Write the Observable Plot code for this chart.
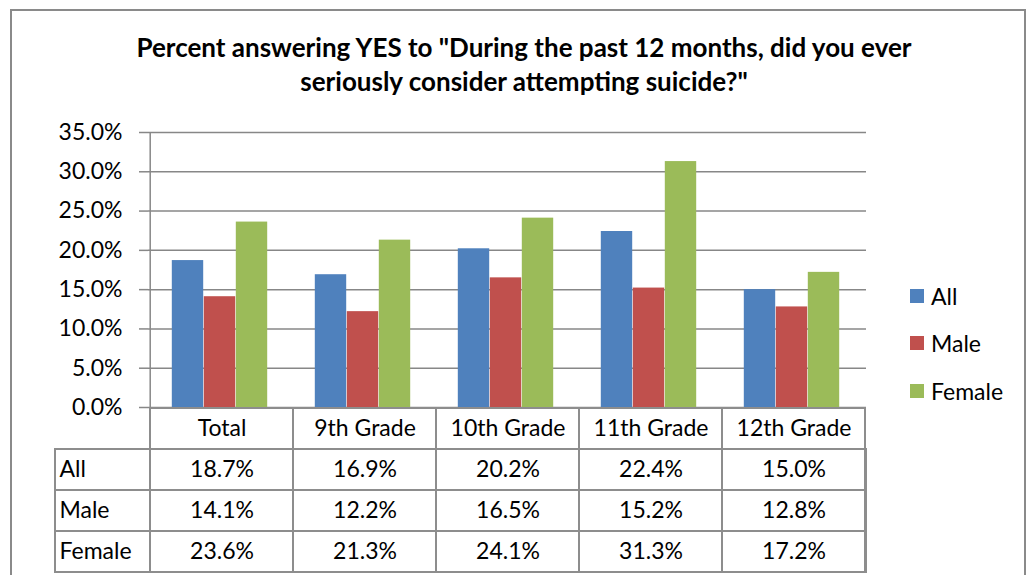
<!DOCTYPE html>
<html><head><meta charset="utf-8">
<script src="https://cdn.jsdelivr.net/npm/d3@7"></script>
<script src="https://cdn.jsdelivr.net/npm/@observablehq/plot@0.6"></script>
<style>
body{margin:0;background:#fff;font-family:Lato,sans-serif;}
#wrap{position:relative;width:1029px;height:575px;overflow:hidden;background:#fff;}
#border{position:absolute;left:10px;top:9px;width:1016px;height:600px;border:2px solid #8a8a8a;box-sizing:border-box;}
#title{position:absolute;left:24px;width:1000px;top:30px;text-align:center;font-weight:bold;font-size:26px;line-height:34px;color:#000;}
.plot{position:absolute;left:0;}
#chart{top:0;}
#table{top:405px;}
#chart g[aria-label^="y-axis"] line, #chart g[aria-label^="y-axis"] path{stroke:#878787 !important;stroke-width:1.5px;}
#legend{position:absolute;left:910px;top:272px;}
.li{display:flex;align-items:center;height:47.5px;font-size:23px;color:#000;}
.sw{width:14px;height:14px;margin-right:7px;}
</style></head>
<body>
<div id="wrap">
  <div id="border"></div>
  <div id="title">Percent answering YES to "During the past 12 months, did you ever<br>seriously consider attempting suicide?"</div>
  <div id="chart" class="plot"></div>
  <div id="table" class="plot"></div>
  <div id="legend"></div>
</div>
<script>
const categories = ["Total", "9th Grade", "10th Grade", "11th Grade", "12th Grade"];
const series = ["All", "Male", "Female"];
const allValues = [18.7, 16.9, 20.2, 22.4, 15.0];
const maleValues = [14.1, 12.2, 16.5, 15.2, 12.8];
const femaleValues = [23.6, 21.3, 24.1, 31.3, 17.2];
const colors = ["#4F81BD", "#C0504D", "#9BBB59"];
const yTicks = [0, 5, 10, 15, 20, 25, 30, 35];

const seriesValues = [allValues, maleValues, femaleValues];
const data = series.flatMap((s, i) => categories.map((c, j) => ({category: c, series: s, value: seriesValues[i][j]})));
const fmt = d => d.toFixed(1) + "%";

const W = 1029, mL = 148, mR = 163;
const band = (W - mL - mR) / categories.length;
const barW = 32;
const gridColor = "#878787";
const fontStyle = {background: "transparent", fontFamily: "Lato, sans-serif", fontSize: "23px", color: "#000", overflow: "visible"};

const chart = Plot.plot({
  width: W, height: 412, marginLeft: mL, marginRight: mR, marginTop: 132, marginBottom: 5,
  style: fontStyle,
  x: {domain: categories, padding: 0, axis: null},
  y: {domain: [0, 35], ticks: yTicks, tickFormat: fmt, tickSize: 9, tickPadding: 17, label: null},
  color: {domain: series, range: colors},
  marks: [
    Plot.ruleY(yTicks, {stroke: gridColor, strokeWidth: 1.5}),
    ...series.map((s, i) => Plot.barY(data.filter(d => d.series === s), {
      x: "category", y: "value", fill: "series",
      insetLeft: (band - barW) / 2, insetRight: (band - barW) / 2, dx: (i - 1) * barW - 2
    })),
    Plot.ruleX([categories[0]], {x: d => d, dx: -band / 2, y1: 0, y2: 35, stroke: gridColor, strokeWidth: 1.5})
  ]
});
document.getElementById("chart").append(chart);

const rowKeys = ["header", ...series];
const cells = categories.flatMap(c => rowKeys.map(r => ({category: c, row: r})));
const tableStroke = "#8d8d8d";
const labelCol = 93;
const table = Plot.plot({
  width: W, height: 170, marginLeft: mL, marginRight: mR, marginTop: 2, marginBottom: 3,
  style: fontStyle,
  x: {domain: categories, padding: 0, axis: null},
  y: {domain: rowKeys, padding: 0, axis: null},
  marks: [
    Plot.cell(series, {y: d => d, fill: "white", stroke: tableStroke, strokeWidth: 2, insetLeft: -labelCol}),
    Plot.cell(cells, {x: "category", y: "row", fill: "white", stroke: tableStroke, strokeWidth: 2}),
    Plot.text(categories, {x: d => d, y: () => "header", text: d => d, fill: "#000"}),
    Plot.text(data, {x: "category", y: "series", text: d => fmt(d.value), fill: "#000"}),
    Plot.text(series, {y: d => d, frameAnchor: "left", textAnchor: "start", dx: -labelCol + 4, text: d => d, fill: "#000"})
  ]
});
document.getElementById("table").append(table);

const legend = document.getElementById("legend");
series.forEach((s, i) => {
  const item = document.createElement("div");
  item.className = "li";
  const sw = document.createElement("span");
  sw.className = "sw";
  sw.style.background = colors[i];
  item.append(sw, document.createTextNode(s));
  legend.append(item);
});
</script>
</body></html>
